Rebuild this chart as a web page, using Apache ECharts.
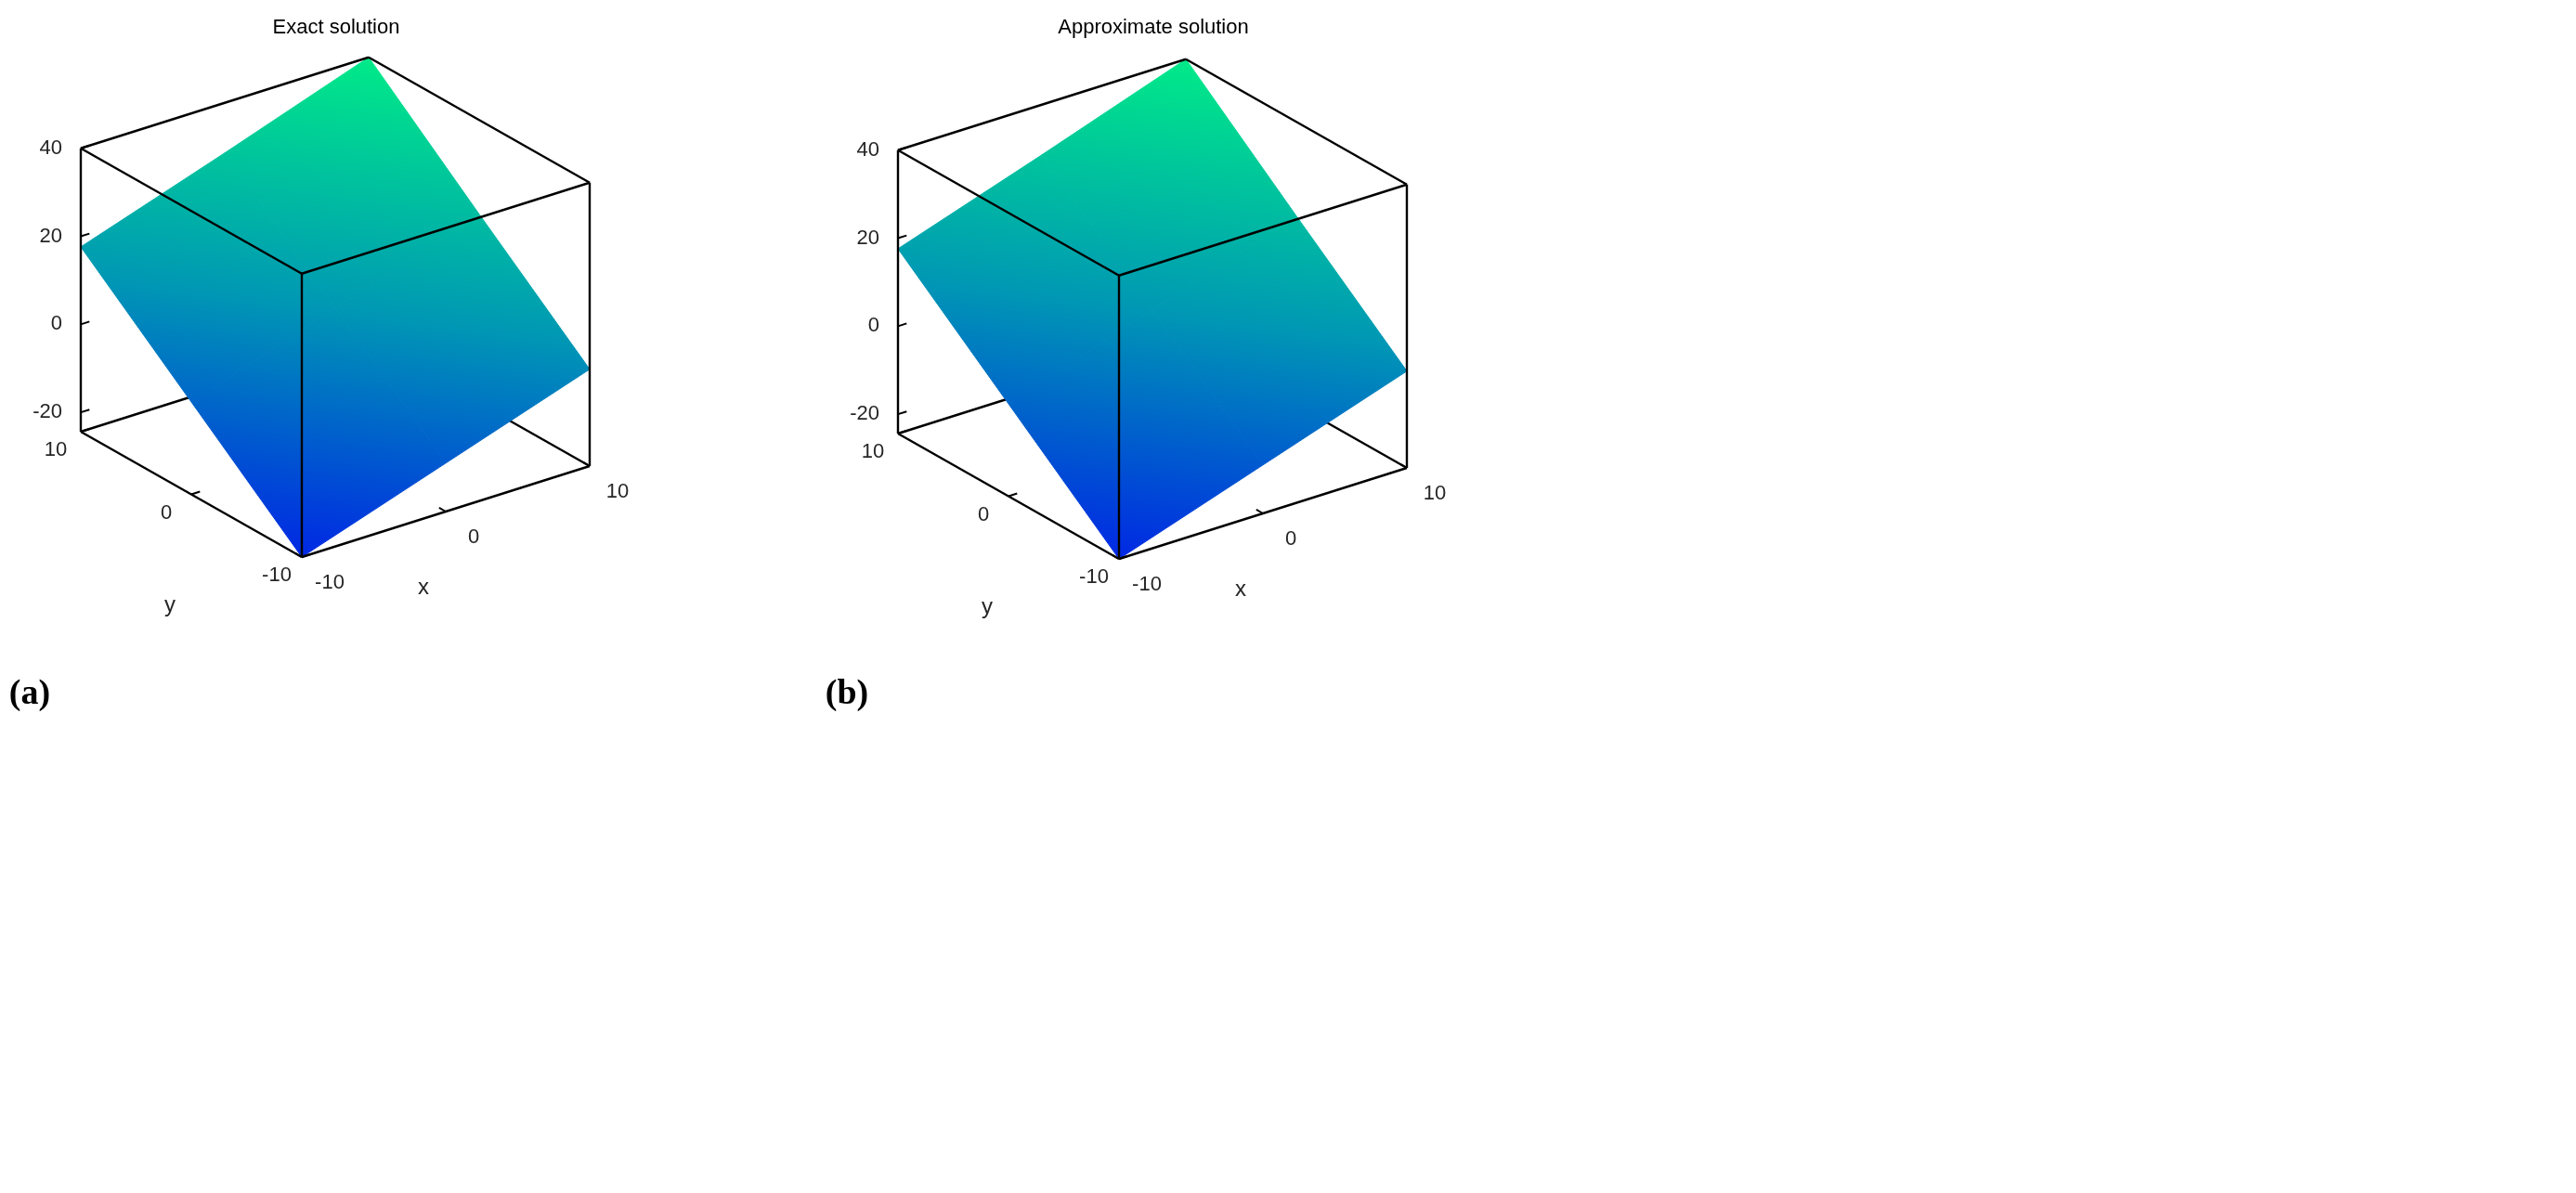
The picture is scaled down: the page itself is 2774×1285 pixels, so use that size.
<!DOCTYPE html>
<html><head><meta charset="utf-8">
<script src="https://cdn.jsdelivr.net/npm/echarts@6/dist/echarts.min.js"></script>
<style>html,body{margin:0;padding:0;background:#fff}#c{width:2774px;height:1285px}</style>
</head><body><div id="c"></div>
<script>
// ---- data ----
const xVals = [-10, 0, 10];
const yVals = [-10, 0, 10];
// z values, rows = y (-10,0,10), cols = x (-10,0,10)
const zExact  = [[-24.4, -13.4, -2.4], [-3.4, 7.6, 18.6], [17.6, 28.6, 40]];
const zApprox = [[-24.4, -13.4, -2.4], [-3.4, 7.6, 18.6], [17.6, 28.6, 40]];
const zTicks = [-20, 0, 20, 40];
const xTicks = [-10, 0, 10];
const yTicks = [-10, 0, 10];
const titles = ['Exact solution', 'Approximate solution'];
const tags = ['(a)', '(b)'];
const zMin = -24.4, zMax = 40;

// ---- view (layout only) ----
const views = [{ox: 325, oy: 600}, {ox: 1205, oy: 602}];
const EX = [15.5, -4.9], EY = [-11.9, -6.75], EZ = 4.74;
function proj(api, v, x, y, z) {
  const sx = v.ox + (x + 10) * EX[0] + (y + 10) * EY[0];
  const sy = v.oy + (x + 10) * EX[1] + (y + 10) * EY[1] - (z - zMin) * EZ;
  return api.coord([sx, sy]);
}
const font = '"Liberation Sans", Arial, sans-serif';
const tickColor = '#262626';

const backEdges = [[[-10,10,zMin],[10,10,zMin]], [[10,-10,zMin],[10,10,zMin]], [[10,10,zMin],[10,10,zMax]]];
const frontEdges = [
  [[-10,-10,zMax],[10,-10,zMax]], [[10,-10,zMax],[10,10,zMax]], [[10,10,zMax],[-10,10,zMax]], [[-10,10,zMax],[-10,-10,zMax]],
  [[-10,-10,zMin],[-10,-10,zMax]], [[10,-10,zMin],[10,-10,zMax]], [[-10,10,zMin],[-10,10,zMax]],
  [[-10,-10,zMin],[10,-10,zMin]], [[-10,-10,zMin],[-10,10,zMin]]
];

const series = [];
[zExact, zApprox].forEach((Z, pi) => {
  const v = views[pi];
  const lineSeries = (edges) => ({
    type: 'custom', coordinateSystem: 'cartesian2d', silent: true,
    data: edges.map((e, i) => [i]),
    renderItem: (params, api) => {
      const e = edges[api.value(0)];
      const a = proj(api, v, ...e[0]), b = proj(api, v, ...e[1]);
      return {type: 'line', shape: {x1: a[0], y1: a[1], x2: b[0], y2: b[1]},
              style: {stroke: '#000', lineWidth: 2.4}};
    }
  });
  series.push(lineSeries(backEdges));
  // surface cells
  const cells = [];
  for (let j = 0; j < yVals.length - 1; j++) for (let i = 0; i < xVals.length - 1; i++) cells.push([i, j]);
  series.push({
    type: 'custom', coordinateSystem: 'cartesian2d', silent: true, data: cells,
    renderItem: (params, api) => {
      const i = api.value(0), j = api.value(1);
      const pts = [[i, j], [i + 1, j], [i + 1, j + 1], [i, j + 1]].map(([a, b]) => proj(api, v, xVals[a], yVals[b], Z[b][a]));
      const top = proj(api, v, 10, 10, zMax), bot = proj(api, v, -10, -10, zMin);
      const grad = new echarts.graphic.LinearGradient(top[0], top[1], bot[0], bot[1], [
        {offset: 0, color: '#00ea88'}, {offset: 0.5, color: '#0098b4'}, {offset: 1, color: '#0028e4'}], true);
      return {type: 'polygon', shape: {points: pts}, style: {fill: grad, stroke: grad, lineWidth: 1}};
    }
  });
  series.push(lineSeries(frontEdges));
  // ticks & labels
  const tickItems = [];
  zTicks.forEach(t => tickItems.push(['z', t]));
  xTicks.forEach(t => tickItems.push(['x', t]));
  yTicks.forEach(t => tickItems.push(['y', t]));
  series.push({
    type: 'custom', coordinateSystem: 'cartesian2d', silent: true,
    data: tickItems.map((t, k) => [k]),
    renderItem: (params, api) => {
      const [ax, t] = tickItems[api.value(0)];
      let a, b, lx, ly, align = 'center';
      if (ax === 'z') { a = proj(api, v, -10, 10, t); b = proj(api, v, -9.4, 10, t); lx = a[0] - 20; ly = a[1]; align = 'right'; }
      else if (ax === 'x') { a = proj(api, v, t, -10, zMin); b = proj(api, v, t, -9.4, zMin); lx = a[0] + 30; ly = a[1] + 28; }
      else { a = proj(api, v, -10, t, zMin); b = proj(api, v, -9.4, t, zMin); lx = a[0] - 27; ly = a[1] + 20; }
      return {type: 'group', children: [
        {type: 'line', shape: {x1: a[0], y1: a[1], x2: b[0], y2: b[1]}, style: {stroke: '#000', lineWidth: 2}},
        {type: 'text', x: lx, y: ly, style: {text: String(t), fill: tickColor, font: '22px ' + font, align: align, verticalAlign: 'middle'}}
      ]};
    }
  });
  // titles and axis names
  series.push({
    type: 'custom', coordinateSystem: 'cartesian2d', silent: true, data: [[0]],
    renderItem: (params, api) => {
      const top = proj(api, v, 10, 10, zMax);
      const xl = proj(api, v, 0, -10, zMin), yl = proj(api, v, -10, 0, zMin);
      const tag = api.coord([v.ox - 293, 748]);
      const tt = api.coord([v.ox + 37 + pi * 0, 30]);
      return {type: 'group', children: [
        {type: 'text', x: tt[0], y: tt[1], style: {text: titles[pi], fill: '#000', font: '22px ' + font, align: 'center', verticalAlign: 'middle'}},
        {type: 'text', x: xl[0] - 24, y: xl[1] + 82, style: {text: 'x', fill: tickColor, font: '24px ' + font, align: 'center', verticalAlign: 'middle'}},
        {type: 'text', x: yl[0] - 23, y: yl[1] + 120, style: {text: 'y', fill: tickColor, font: '24px ' + font, align: 'center', verticalAlign: 'middle'}},
        {type: 'text', x: tag[0], y: tag[1], style: {text: tags[pi], fill: '#000', font: 'bold 38px "Liberation Serif", "DejaVu Serif", serif', align: 'center', verticalAlign: 'middle'}}
      ]};
    }
  });
});

const chart = echarts.init(document.getElementById('c'));
chart.setOption({
  animation: false,
  grid: {left: 0, right: 0, top: 0, bottom: 0},
  xAxis: {type: 'value', min: 0, max: 2774, show: false},
  yAxis: {type: 'value', min: 0, max: 1285, inverse: true, show: false},
  series: series
});
</script></body></html>
